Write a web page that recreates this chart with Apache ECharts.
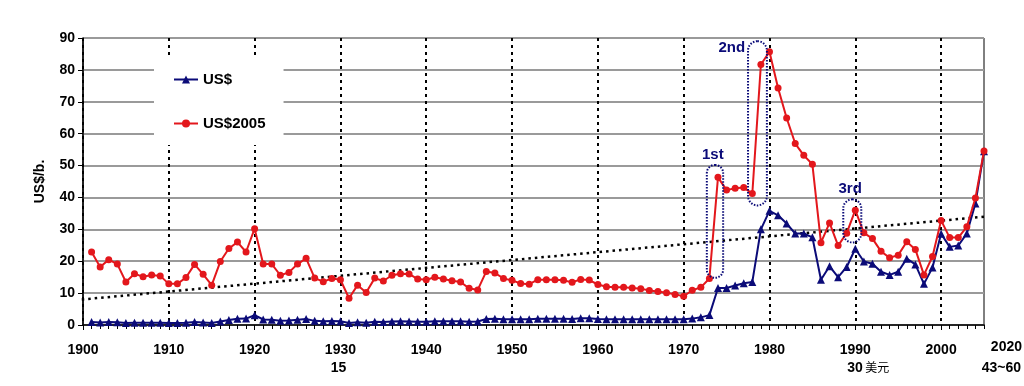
<!DOCTYPE html>
<html>
<head>
<meta charset="utf-8">
<script src="https://cdn.jsdelivr.net/npm/echarts@6/dist/echarts.min.js"></script>
<style>
html,body{margin:0;padding:0;background:#fff;}
#chart{width:1024px;height:386px;}
</style>
</head>
<body>
<div id="chart"></div>
<script>
// ---- data ----
var startYear = 1901;
var usd = [
  0.96,0.80,0.94,0.86,0.62,0.73,0.72,0.72,0.70,0.61,
  0.61,0.74,0.95,0.81,0.64,1.10,1.56,1.98,2.01,3.07,
  1.73,1.61,1.34,1.43,1.68,1.88,1.30,1.17,1.27,1.19,
  0.65,0.87,0.67,1.00,0.97,1.09,1.18,1.13,1.02,1.02,
  1.14,1.19,1.20,1.21,1.05,1.12,1.90,1.99,1.80,1.78,
  1.77,1.77,1.93,1.93,1.93,1.93,1.90,2.08,2.08,1.90,
  1.80,1.80,1.80,1.80,1.80,1.80,1.80,1.80,1.80,1.80,
  2.0,2.4,3.1,11.6,11.6,12.4,13.1,13.5,30.0,35.8,
  34.4,31.8,28.7,28.7,27.5,14.2,18.4,15.0,18.2,23.9,
  19.9,19.2,16.7,15.7,16.7,20.8,19.0,12.9,18.0,28.6,
  24.5,24.9,28.7,38.1,54.5
];
var usd2005 = [
  22.9,18.2,20.5,19.1,13.5,16.1,15.1,15.7,15.4,12.9,
  12.9,14.9,19.0,15.9,12.5,19.9,24.0,26.0,22.9,30.2,
  19.1,19.1,15.6,16.5,19.1,20.9,14.7,13.6,14.6,14.2,
  8.4,12.5,10.2,14.7,13.8,15.6,16.1,16.0,14.4,14.2,
  15.0,14.4,13.9,13.5,11.5,11.0,16.8,16.3,14.6,14.0,
  13.0,12.8,14.2,14.2,14.2,14.0,13.4,14.3,14.1,12.7,
  12.0,11.8,11.8,11.6,11.4,10.8,10.5,10.1,9.6,9.0,
  10.9,11.8,14.6,46.3,42.3,42.9,43.1,41.2,81.7,85.7,
  74.3,64.9,56.9,53.2,50.4,25.8,32.0,24.9,28.8,36.0,
  28.9,27.1,23.1,21.1,21.9,26.1,23.7,15.7,21.5,32.8,
  27.4,27.4,30.8,39.8,54.6
];
var trendYears = [1899.1, 2009.6];
var trendValues = [7.8, 35.1];
var xTickLabels = ['1900','1910','1920','1930','1940','1950','1960','1970','1980','1990','2000'];
var seriesNames = ['US$', 'US$2005'];
var boxLabels = ['1st', '2nd', '3rd'];
var boxYears = [[1972.7, 1974.6], [1977.5, 1979.7], [1988.6, 1990.7]];
var boxValues = [[14.8, 50.2], [37.5, 89.0], [25.9, 39.4]];
var boxLabelAt = [[1973.4, 53.3], [1975.6, 86.8], [1989.4, 42.6]];
var extraTexts = ['15', '30', '美元', '2020', '43~60'];

function pairs(vals) {
  return vals.map(function (v, i) { return [startYear + i, v]; });
}

var FONT = "'Liberation Sans', Arial, 'Noto Sans CJK SC', sans-serif";
var NAVY = '#0b0b78';
var RED = '#e3171c';

var chart = echarts.init(document.getElementById('chart'), null, {renderer: 'canvas'});
chart.setOption({
  animation: false,
  textStyle: {fontFamily: FONT},
  grid: {left: 83, right: 40, top: 38, bottom: 61, show: true, borderColor: '#000', borderWidth: 1, backgroundColor: 'transparent'},
  legend: {
    data: seriesNames,
    orient: 'vertical',
    left: 154, top: 55,
    padding: [17, 18, 14, 19],
    itemGap: 29,
    itemWidth: 24, itemHeight: 10,
    backgroundColor: '#fff',
    textStyle: {fontFamily: FONT, fontWeight: 'bold', fontSize: 15, color: '#000'}
  },
  xAxis: [{
    type: 'value', min: 1900, max: 2005, interval: 10,
    axisLine: {show: true, lineStyle: {color: '#000', width: 1.5}},
    axisTick: {show: true, length: 5, lineStyle: {color: '#000'}},
    axisLabel: {
      showMaxLabel: false, margin: 18,
      fontFamily: FONT, fontWeight: 'bold', fontSize: 14, color: '#000',
      formatter: function (v) { var i = Math.round((v - 1900) / 10); return (v % 10 === 0 && xTickLabels[i]) ? xTickLabels[i] : ''; }
    },
    splitLine: {show: true, showMaxLine: false, lineStyle: {color: '#000', width: 2, type: [3, 4]}}
  }, {
    type: 'value', min: 1900, max: 2005, interval: 1, position: 'bottom',
    axisLine: {show: false},
    axisTick: {show: true, length: 4, lineStyle: {color: '#000'}},
    axisLabel: {show: false},
    splitLine: {show: false}
  }],
  yAxis: {
    type: 'value', min: 0, max: 90, interval: 10,
    name: 'US$/b.', nameLocation: 'middle', nameGap: 36, nameRotate: 90,
    nameTextStyle: {fontFamily: FONT, fontWeight: 'bold', fontSize: 14, color: '#000'},
    axisLine: {show: true, lineStyle: {color: '#000', width: 1.5}},
    axisTick: {show: true, length: 5, lineStyle: {color: '#000'}},
    axisLabel: {fontFamily: FONT, fontWeight: 'bold', fontSize: 14, color: '#000', margin: 8},
    splitLine: {show: true, lineStyle: {color: '#9a9a9a', width: 2}}
  },
  series: [{
    name: 'trend', type: 'line', clip: false, silent: true,
    data: trendYears.map(function (y, i) { return [y, trendValues[i]]; }),
    symbol: 'none',
    lineStyle: {color: '#000', width: 2.5, type: [2.5, 4]},
    z: 1
  }, {
    name: seriesNames[0], type: 'line',
    data: pairs(usd),
    symbol: 'triangle', symbolSize: 8,
    lineStyle: {color: NAVY, width: 2},
    itemStyle: {color: NAVY},
    z: 3
  }, {
    name: seriesNames[1], type: 'line',
    data: pairs(usd2005),
    symbol: 'circle', symbolSize: 7,
    lineStyle: {color: RED, width: 2},
    itemStyle: {color: RED},
    z: 4
  }]
});

function px(x) { return chart.convertToPixel({xAxisIndex: 0}, x); }
function py(y) { return chart.convertToPixel({yAxisIndex: 0}, y); }

var graphics = [];
boxLabels.forEach(function (lab, i) {
  var x0 = px(boxYears[i][0]), x1 = px(boxYears[i][1]);
  var y0 = py(boxValues[i][1]), y1 = py(boxValues[i][0]);
  var w = x1 - x0;
  graphics.push({
    type: 'rect', z: 10,
    shape: {x: x0, y: y0, width: w, height: y1 - y0, r: w / 2},
    style: {fill: 'none', stroke: NAVY, lineWidth: 2, lineDash: [1.5, 1.5]}
  });
  graphics.push({
    type: 'text', z: 10,
    x: px(boxLabelAt[i][0]), y: py(boxLabelAt[i][1]),
    style: {text: lab, fill: NAVY, font: 'bold 15px ' + FONT, textAlign: 'center', textVerticalAlign: 'middle'}
  });
});
graphics.push({type: 'text', x: px(1930) - 2, y: 368, style: {text: extraTexts[0], fill: '#000', font: 'bold 14px ' + FONT, textAlign: 'center', textVerticalAlign: 'middle'}});
graphics.push({type: 'text', x: px(1990) - 8, y: 368, style: {text: extraTexts[1], fill: '#000', font: 'bold 14px ' + FONT, textAlign: 'left', textVerticalAlign: 'middle'}});
graphics.push({type: 'text', x: px(1990) + 10, y: 369, style: {text: extraTexts[2], fill: '#000', font: '12px ' + FONT, textAlign: 'left', textVerticalAlign: 'middle'}});
graphics.push({type: 'text', x: 1022, y: 347, style: {text: extraTexts[3], fill: '#000', font: 'bold 14px ' + FONT, textAlign: 'right', textVerticalAlign: 'middle'}});
graphics.push({type: 'text', x: 1021, y: 368, style: {text: extraTexts[4], fill: '#000', font: 'bold 14px ' + FONT, textAlign: 'right', textVerticalAlign: 'middle'}});
chart.setOption({graphic: graphics});
</script>
</body>
</html>
